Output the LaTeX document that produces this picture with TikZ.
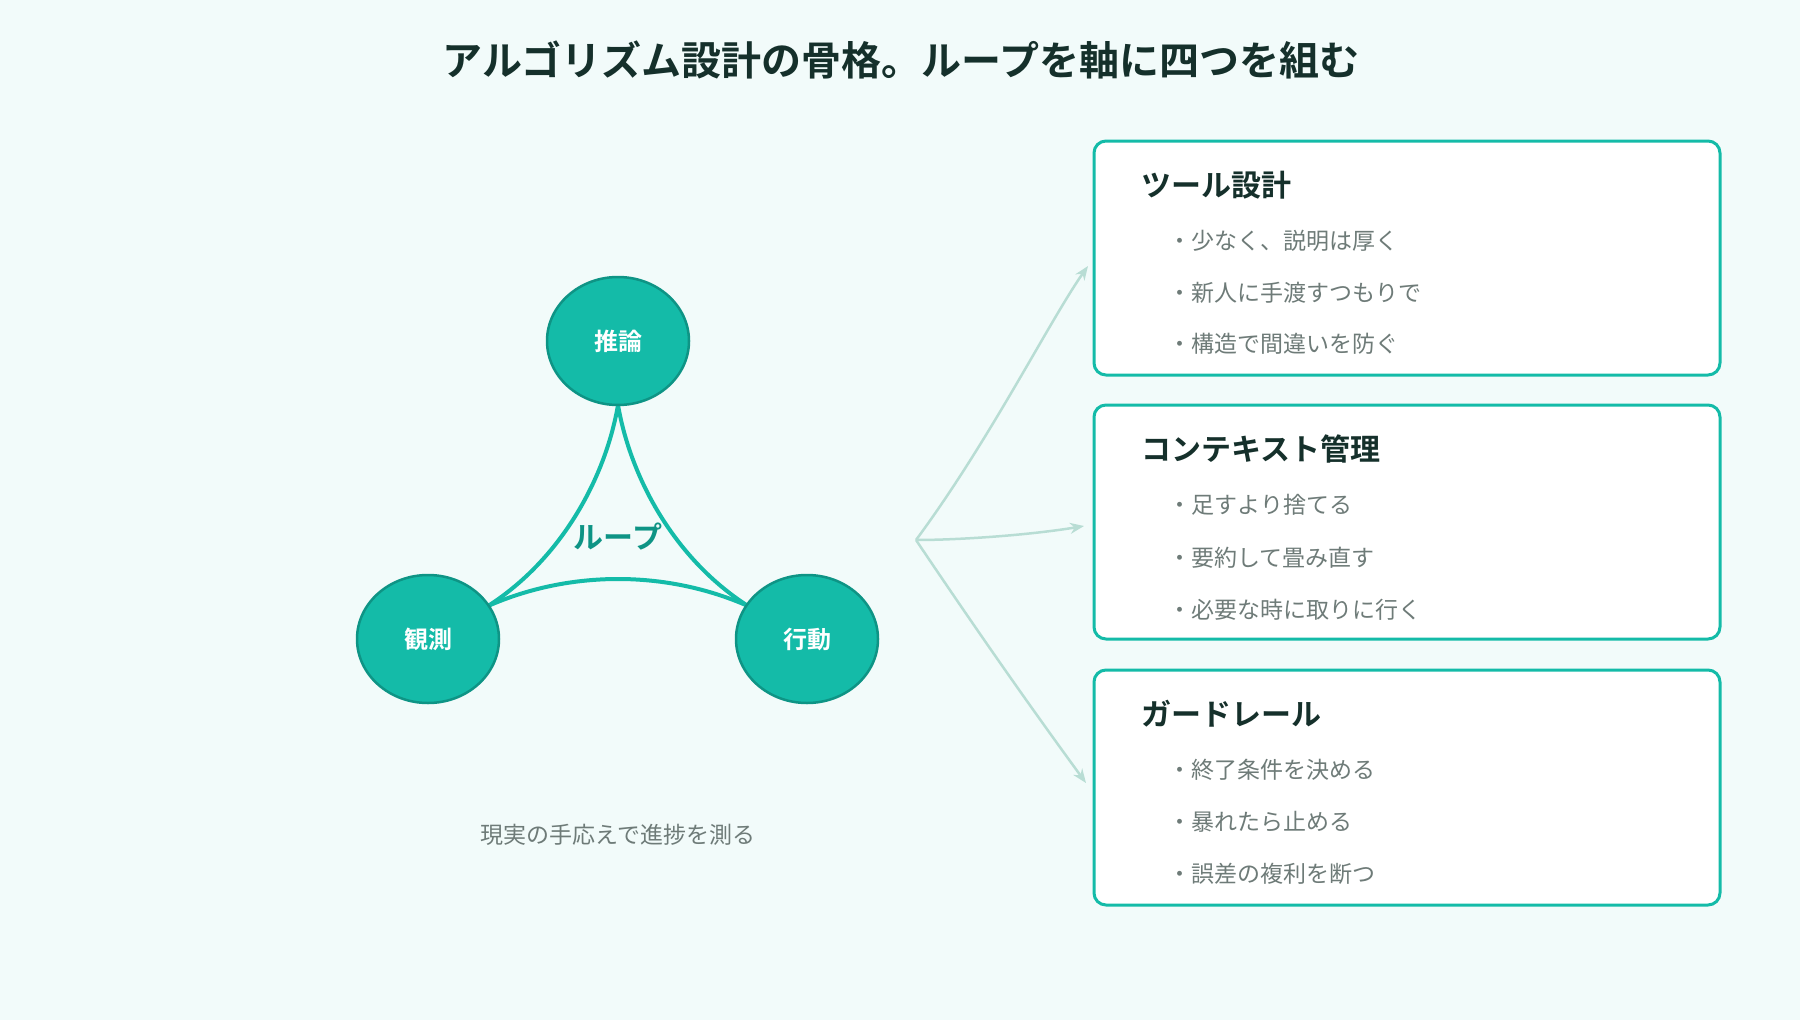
\documentclass[tikz,border=0pt]{standalone}
\usepackage{fontspec}
\setmainfont{Noto Sans CJK JP}[BoldFont={Noto Sans CJK JP Bold}]
\usetikzlibrary{arrows.meta,shapes.geometric}
\definecolor{bg}{HTML}{F2FBFA}
\definecolor{teal}{HTML}{14BBA8}
\definecolor{tealdk}{HTML}{0E9485}
\definecolor{arr}{HTML}{B8DDD4}
\definecolor{ink}{HTML}{15302B}
\definecolor{gray}{HTML}{6E7B78}
\begin{document}
\begin{tikzpicture}[x=1pt,y=-1pt,
 circ/.style={ellipse,draw=tealdk,line width=2.5pt,fill=teal,minimum width=142pt,minimum height=128pt,inner sep=0pt,text=white,font=\fontsize{24}{28}\selectfont\bfseries},
 side/.style={draw=teal,line width=4pt},
 box/.style={draw=teal,line width=3pt,fill=white,rounded corners=12pt},
 head/.style={anchor=west,text=ink,font=\fontsize{30}{34}\selectfont\bfseries},
 item/.style={anchor=west,text=gray,font=\fontsize{23}{27}\selectfont},
 ar/.style={draw=arr,line width=2.5pt,-{Stealth[length=14pt,width=11pt]}}]
\useasboundingbox[fill=bg] (0,0) rectangle (1800,1020);
\node[text=ink,font=\fontsize{40}{46}\selectfont\bfseries] (title) at (901,60) {アルゴリズム設計の骨格。ループを軸に四つを組む};
\draw[side] (618,405) .. controls (605,480) and (560,560) .. (488,606);
\draw[side] (618,405) .. controls (631,480) and (676,560) .. (748,606);
\draw[side] (488,606) .. controls (570,570) and (666,570) .. (748,606);
\node[circ] (r) at (618,341) {推論};
\node[circ] (o) at (428,639) {観測};
\node[circ] (a) at (807,639) {行動};
\node[text=tealdk,font=\fontsize{30}{34}\selectfont\bfseries] (loop) at (618,537) {ループ};
\node[text=gray,font=\fontsize{23}{27}\selectfont] (cap) at (618,835) {現実の手応えで進捗を測る};
\coordinate (src) at (916,540);
\draw[box] (1094,141) rectangle (1720,375);
\draw[box] (1094,405) rectangle (1720,639);
\draw[box] (1094,670) rectangle (1720,905);
\coordinate (t1) at (1088,266);
\coordinate (t2) at (1084,526);
\coordinate (t3) at (1086,783);
\draw[ar] (src) .. controls (990,440) and (1050,320) .. (t1);
\draw[ar] (src) .. controls (960,540) and (1030,535) .. (t2);
\draw[ar] (src) .. controls (990,650) and (1040,720) .. (t3);
\node[head] (h1) at (1138,185) {ツール設計};
\node[item] at (1165,241) {・少なく、説明は厚く};
\node[item] at (1165,293) {・新人に手渡すつもりで};
\node[item] at (1165,344) {・構造で間違いを防ぐ};
\node[head] (h2) at (1138,449) {コンテキスト管理};
\node[item] at (1165,505) {・足すより捨てる};
\node[item] at (1165,558) {・要約して畳み直す};
\node[item] at (1165,610) {・必要な時に取りに行く};
\node[head] (h3) at (1138,714) {ガードレール};
\node[item] at (1165,770) {・終了条件を決める};
\node[item] at (1165,822) {・暴れたら止める};
\node[item] at (1165,874) {・誤差の複利を断つ};
\end{tikzpicture}
\end{document}
